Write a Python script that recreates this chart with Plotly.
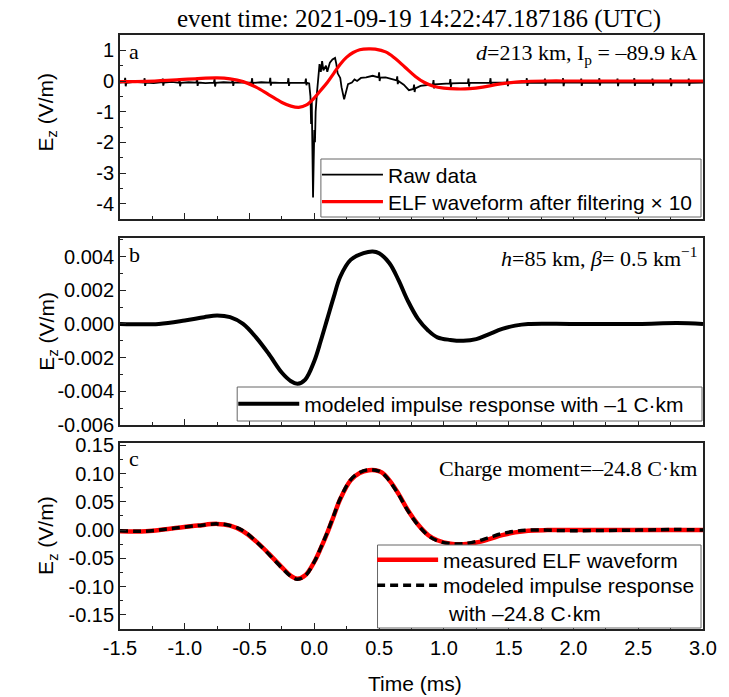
import plotly.graph_objects as go
from plotly.subplots import make_subplots

# ---------------- data ----------------
raw_t = [-1.500, -1.465, -1.460, -1.456, -1.451, -1.39, -1.315, -1.310, -1.306, -1.301,
         -1.24, -1.175, -1.170, -1.166, -1.161, -1.10, -1.045, -1.040, -1.036, -1.031,
         -0.97, -0.910, -0.905, -0.901, -0.896, -0.84, -0.775, -0.770, -0.766, -0.761,
         -0.70, -0.635, -0.630, -0.626, -0.621, -0.55, -0.485, -0.480, -0.476, -0.471,
         -0.41, -0.345, -0.340, -0.336, -0.331, -0.27, -0.205, -0.200, -0.196, -0.191,
         -0.13, -0.070, -0.065, -0.061, -0.056,
         -0.04, -0.03, -0.025, -0.02, -0.015, -0.01, -0.005, 0.0, 0.005, 0.01, 0.02, 0.03,
         0.04, 0.05, 0.06, 0.07, 0.09, 0.10, 0.12, 0.14, 0.16, 0.17, 0.18, 0.20, 0.21,
         0.23, 0.245, 0.26, 0.29, 0.31, 0.33, 0.36, 0.40, 0.45,
         0.495, 0.500, 0.504, 0.509, 0.55, 0.60, 0.635, 0.640, 0.644, 0.649,
         0.69, 0.73, 0.765, 0.770, 0.774, 0.779, 0.82, 0.87, 0.915, 0.920, 0.924, 0.929,
         0.98, 1.045, 1.050, 1.054, 1.059, 1.12, 1.185, 1.190, 1.194, 1.199,
         1.28, 1.355, 1.360, 1.364, 1.369, 1.43, 1.485, 1.490, 1.494, 1.499,
         1.57, 1.635, 1.640, 1.644, 1.649, 1.71, 1.775, 1.780, 1.784, 1.789,
         1.85, 1.915, 1.920, 1.924, 1.929, 1.99, 2.055, 2.060, 2.064, 2.069,
         2.13, 2.195, 2.200, 2.204, 2.209, 2.27, 2.335, 2.340, 2.344, 2.349,
         2.41, 2.465, 2.470, 2.474, 2.479, 2.54, 2.605, 2.610, 2.614, 2.619,
         2.68, 2.745, 2.750, 2.754, 2.759, 2.82, 2.885, 2.890, 2.894, 2.899,
         2.95, 3.00]
raw_v = [-0.05, -0.04, 0.10, -0.17, -0.06, -0.03, -0.05, 0.09, -0.16, -0.05,
         -0.07, -0.04, 0.08, -0.15, -0.05, -0.03, -0.06, 0.08, -0.17, -0.06,
         -0.04, -0.05, 0.10, -0.16, -0.05, -0.07, -0.05, 0.07, -0.18, -0.06,
         -0.04, -0.05, 0.08, -0.16, -0.05, -0.06, -0.05, 0.09, -0.17, -0.06,
         -0.04, -0.05, 0.10, -0.15, -0.05, -0.06, -0.05, 0.09, -0.16, -0.06,
         -0.05, -0.05, 0.08, -0.14, -0.06,
         -0.08, -0.5, -1.4, -0.6, -2.5, -3.8, -2.6, -1.6, -2.0, -1.0, -0.4, 0.0,
         0.55, 0.3, 0.65, 0.35, 0.5, 0.3, 0.6, 0.7, 0.75, 0.55, 0.25, 0.1, -0.2,
         -0.6, -0.35, -0.1, -0.05, 0.05, 0.0, 0.1, 0.12, 0.17,
         0.12, 0.28, 0.0, 0.11, 0.12, 0.06, 0.02, 0.15, -0.10, 0.0,
         -0.12, -0.30, -0.26, -0.12, -0.36, -0.24, -0.16, -0.13, -0.11, 0.03, -0.24, -0.11,
         -0.10, -0.08, 0.06, -0.20, -0.08, -0.07, -0.06, 0.08, -0.18, -0.06,
         -0.05, -0.05, 0.09, -0.16, -0.05, -0.06, -0.05, 0.08, -0.17, -0.05,
         -0.04, -0.05, 0.09, -0.16, -0.06, -0.05, -0.05, 0.08, -0.15, -0.05,
         -0.06, -0.05, 0.09, -0.17, -0.05, -0.04, -0.05, 0.08, -0.16, -0.06,
         -0.05, -0.05, 0.09, -0.15, -0.05, -0.06, -0.05, 0.08, -0.17, -0.05,
         -0.04, -0.05, 0.09, -0.16, -0.06, -0.05, -0.05, 0.08, -0.15, -0.05,
         -0.06, -0.05, 0.09, -0.17, -0.05, -0.04, -0.05, 0.08, -0.16, -0.06,
         -0.05, -0.05]

elf10_t = [-1.5, -1.3, -1.1, -0.9, -0.75, -0.65, -0.55, -0.45, -0.35, -0.25, -0.18, -0.12,
           -0.06, 0.0, 0.05, 0.1, 0.15, 0.2, 0.25, 0.3, 0.35, 0.42, 0.47, 0.55, 0.62, 0.7,
           0.78, 0.85, 0.92, 1.0, 1.1, 1.2, 1.3, 1.4, 1.5, 1.6, 1.8, 2.0, 2.5, 3.0]
elf10_v = [-0.02, -0.01, 0.03, 0.08, 0.10, 0.07, -0.02, -0.2, -0.45, -0.7, -0.82, -0.86,
           -0.78, -0.55, -0.3, -0.05, 0.25, 0.55, 0.78, 0.93, 1.02, 1.05, 1.04, 0.95, 0.75, 0.45,
           0.15, -0.05, -0.17, -0.23, -0.26, -0.25, -0.2, -0.12, -0.06, -0.02, 0.0, 0.0, 0.0, 0.0]

imp_t = [-1.5, -1.2, -1.0, -0.85, -0.75, -0.65, -0.55, -0.45, -0.35, -0.25, -0.18, -0.13,
         -0.07, 0.0, 0.05, 0.1, 0.15, 0.2, 0.28, 0.38, 0.45, 0.5, 0.58, 0.65, 0.72, 0.8,
         0.88, 0.95, 1.05, 1.15, 1.25, 1.35, 1.45, 1.55, 1.65, 2.0, 2.5, 2.8, 3.0]
imp_v = [0.0, 0.0, 0.0002, 0.0004, 0.0005, 0.0004, 0.0, -0.0008, -0.0018, -0.0029, -0.0034,
         -0.00355, -0.0033, -0.0022, -0.001, 0.0003, 0.0016, 0.0028, 0.0038, 0.0042, 0.0043,
         0.0042, 0.0036, 0.0026, 0.0014, 0.0003, -0.0004, -0.0008, -0.00095, -0.001, -0.0009,
         -0.0006, -0.0003, -0.0001, 0.0, 0.0, 0.0, 0.00005, 0.0]

meas_t = [-1.5, -1.3, -1.1, -0.9, -0.75, -0.65, -0.55, -0.45, -0.35, -0.25, -0.18, -0.13,
          -0.07, 0.0, 0.05, 0.1, 0.15, 0.2, 0.28, 0.35, 0.42, 0.47, 0.52, 0.58, 0.65, 0.72,
          0.8, 0.88, 0.95, 1.05, 1.15, 1.25, 1.35, 1.45, 1.55, 1.65, 1.8, 2.0, 2.5, 3.0]
meas_v = [-0.002, -0.002, 0.003, 0.008, 0.011, 0.008, -0.002, -0.02, -0.042, -0.066, -0.081,
          -0.086, -0.08, -0.056, -0.032, -0.005, 0.025, 0.055, 0.088, 0.101, 0.106, 0.106,
          0.102, 0.088, 0.064, 0.036, 0.01, -0.009, -0.018, -0.024, -0.025, -0.022, -0.016,
          -0.009, -0.004, -0.001, 0.0, 0.0, 0.0, 0.0]

mod_t = [-1.5, -1.3, -1.1, -0.9, -0.75, -0.65, -0.55, -0.45, -0.35, -0.25, -0.18, -0.13,
         -0.07, 0.0, 0.05, 0.1, 0.15, 0.2, 0.28, 0.35, 0.42, 0.47, 0.52, 0.58, 0.65, 0.72,
         0.8, 0.88, 0.95, 1.05, 1.15, 1.25, 1.35, 1.45, 1.55, 1.65, 2.0, 2.5, 2.8, 3.0]
mod_v = [-0.001, -0.002, 0.003, 0.008, 0.011, 0.008, -0.001, -0.02, -0.043, -0.067, -0.082,
         -0.087, -0.081, -0.056, -0.031, -0.004, 0.026, 0.056, 0.089, 0.102, 0.107, 0.106,
         0.102, 0.087, 0.063, 0.035, 0.009, -0.01, -0.019, -0.024, -0.024, -0.02, -0.013,
         -0.006, -0.002, 0.0, -0.001, 0.0, 0.001, 0.0]

x_ticks = [-1.5, -1.0, -0.5, 0.0, 0.5, 1.0, 1.5, 2.0, 2.5, 3.0]
x_ticktext = ["-1.5", "-1.0", "-0.5", "0.0", "0.5", "1.0", "1.5", "2.0", "2.5", "3.0"]
ya_ticks = [1, 0, -1, -2, -3, -4]
ya_text = ["1", "0", "-1", "-2", "-3", "-4"]
yb_ticks = [0.004, 0.002, 0.0, -0.002, -0.004, -0.006]
yb_text = ["0.004", "0.002", "0.000", "-0.002", "-0.004", "-0.006"]
yc_ticks = [0.15, 0.10, 0.05, 0.0, -0.05, -0.10, -0.15]
yc_text = ["0.15", "0.10", "0.05", "0.00", "-0.05", "-0.10", "-0.15"]

# ---------------- figure ----------------
SANS = "Liberation Sans, Arial, sans-serif"
SERIF = "Liberation Serif, Times New Roman, serif"

fig = make_subplots(rows=3, cols=1, shared_xaxes=False)

fig.add_trace(go.Scatter(x=raw_t, y=raw_v, mode="lines", name="Raw data",
                         line=dict(color="black", width=1.8), legend="legend"), row=1, col=1)
fig.add_trace(go.Scatter(x=elf10_t, y=elf10_v, mode="lines", line_shape="spline",
                         name="ELF waveform after filtering × 10",
                         line=dict(color="#ff0000", width=3.2), legend="legend2"), row=1, col=1)
fig.add_trace(go.Scatter(x=imp_t, y=imp_v, mode="lines", line_shape="spline",
                         name="modeled impulse response with –1 C·km",
                         line=dict(color="black", width=4), legend="legend3"), row=2, col=1)
fig.add_trace(go.Scatter(x=meas_t, y=meas_v, mode="lines", line_shape="spline",
                         name="measured ELF waveform",
                         line=dict(color="#ff0000", width=4.5), legend="legend4"), row=3, col=1)
fig.add_trace(go.Scatter(x=mod_t, y=mod_v, mode="lines", line_shape="spline",
                         name="modeled impulse response<br> with –24.8 C·km",
                         line=dict(color="black", width=3.5, dash="8px,5px"), legend="legend5"), row=3, col=1)

axis_common = dict(showline=True, linecolor="#222222", linewidth=1.8, mirror=True,
                   ticks="inside", ticklen=6, tickwidth=1.2, tickcolor="#222222",
                   showgrid=False, zeroline=False, ticklabeloverflow="allow",
                   tickfont=dict(family=SANS, size=20, color="black"))
minor_x = dict(ticks="inside", ticklen=3, tickwidth=1, tickcolor="#222222", dtick=0.25, showgrid=False)

for i in (1, 2, 3):
    fig.update_xaxes(axis_common, row=i, col=1, range=[-1.5, 3.0],
                     tickmode="array", tickvals=x_ticks,
                     ticktext=x_ticktext if i == 3 else [""] * len(x_ticks),
                     minor=minor_x)

fig.update_yaxes(axis_common, row=1, col=1, range=[-4.5, 1.5], tickmode="array",
                 tickvals=ya_ticks, ticktext=ya_text,
                 minor=dict(ticks="inside", ticklen=3, tickwidth=1, tickcolor="#222222", dtick=0.5, showgrid=False))
fig.update_yaxes(axis_common, row=2, col=1, range=[-0.006, 0.0051], tickmode="array",
                 tickvals=yb_ticks, ticktext=yb_text,
                 minor=dict(ticks="inside", ticklen=3, tickwidth=1, tickcolor="#222222", dtick=0.001, showgrid=False))
fig.update_yaxes(axis_common, row=3, col=1, range=[-0.175, 0.155], tickmode="array",
                 tickvals=yc_ticks, ticktext=yc_text,
                 minor=dict(ticks="inside", ticklen=3, tickwidth=1, tickcolor="#222222", dtick=0.025, showgrid=False))

W, H = 729, 697
L, R, T, B = 120, 17, 35, 68
PW, PH = W - L - R, H - T - B


def py(pix):
    """paper y for a pixel row"""
    return (H - B - pix) / PH


def px(pix):
    """paper x for a pixel column"""
    return (pix - L) / PW


fig.update_layout(
    yaxis=dict(domain=[py(219), 1.0]),
    yaxis2=dict(domain=[py(425), py(238)]),
    yaxis3=dict(domain=[0.0, py(442.5)]),
)

# legend frames (one box per panel) drawn as shapes, entries as borderless legends
frames = [(324, 159, 710, 217), (239, 387, 711, 421), (381.5, 545, 710, 628)]
for (x0, y0, x1, y1) in frames:
    fig.add_shape(type="rect", xref="paper", yref="paper", layer="above",
                  x0=px(x0), x1=px(x1), y0=py(y1), y1=py(y0),
                  fillcolor="white", line=dict(color="#666666", width=1))

legend_common = dict(bgcolor="rgba(0,0,0,0)", borderwidth=0,
                     font=dict(family=SANS, size=21, color="black"),
                     xanchor="left", yanchor="middle", itemwidth=61,
                     tracegroupgap=0, valign="top")
fig.update_layout(
    legend=dict(legend_common, x=px(320), y=py(175)),
    legend2=dict(legend_common, x=px(320), y=py(202)),
    legend3=dict(legend_common, x=px(235), y=py(404)),
    legend4=dict(legend_common, x=px(376), y=py(560)),
    legend5=dict(legend_common, x=px(376), y=py(599)),
    showlegend=True,
)

fig.update_layout(width=W, height=H, margin=dict(l=L, r=R, t=T, b=B),
                  plot_bgcolor="white", paper_bgcolor="white")

ann = []
ann.append(dict(text="event time: 2021-09-19 14:22:47.187186 (UTC)", xref="paper", yref="paper",
                x=px(424), y=py(19), xanchor="center", yanchor="middle", showarrow=False,
                font=dict(family=SERIF, size=25, color="black")))
for lab, yref in (("a", "y domain"), ("b", "y2 domain"), ("c", "y3 domain")):
    ann.append(dict(text=lab, xref=yref.replace("y", "x", 1), yref=yref, x=0.012, y=0.99,
                    xanchor="left", yanchor="top", showarrow=False,
                    font=dict(family=SERIF, size=22, color="black")))
ann.append(dict(text="<i>d</i>=213 km, I<sub>p</sub> = –89.9 kA", xref="x domain", yref="y domain",
                x=0.993, y=0.985, xanchor="right", yanchor="top", showarrow=False,
                font=dict(family=SERIF, size=22, color="black")))
ann.append(dict(text="<i>h</i>=85 km, <i>β</i>= 0.5 km<sup>−1</sup>", xref="x2 domain", yref="y2 domain",
                x=0.993, y=0.985, xanchor="right", yanchor="top", showarrow=False,
                font=dict(family=SERIF, size=22, color="black")))
ann.append(dict(text="Charge moment=–24.8 C·km", xref="x3 domain", yref="y3 domain",
                x=0.993, y=0.94, xanchor="right", yanchor="top", showarrow=False,
                font=dict(family=SERIF, size=22, color="black")))
ytitle_x = px(46)
for yref, yc in (("y domain", 0.58), ("y2 domain", 0.5), ("y3 domain", 0.5)):
    ann.append(dict(text="E<sub>z</sub> (V/m)", xref="paper", yref=yref, x=ytitle_x, y=yc,
                    xanchor="center", yanchor="middle", textangle=-90, showarrow=False,
                    font=dict(family=SANS, size=21, color="black")))
ann.append(dict(text="Time (ms)", xref="paper", yref="paper", x=px(420), y=py(683),
                xanchor="center", yanchor="middle", showarrow=False,
                font=dict(family=SANS, size=21, color="black")))
fig.update_layout(annotations=ann)

fig.write_html("out.html", config={"displayModeBar": False, "responsive": False},
               post_script="document.body.style.margin='0';document.body.style.overflow='hidden';")
